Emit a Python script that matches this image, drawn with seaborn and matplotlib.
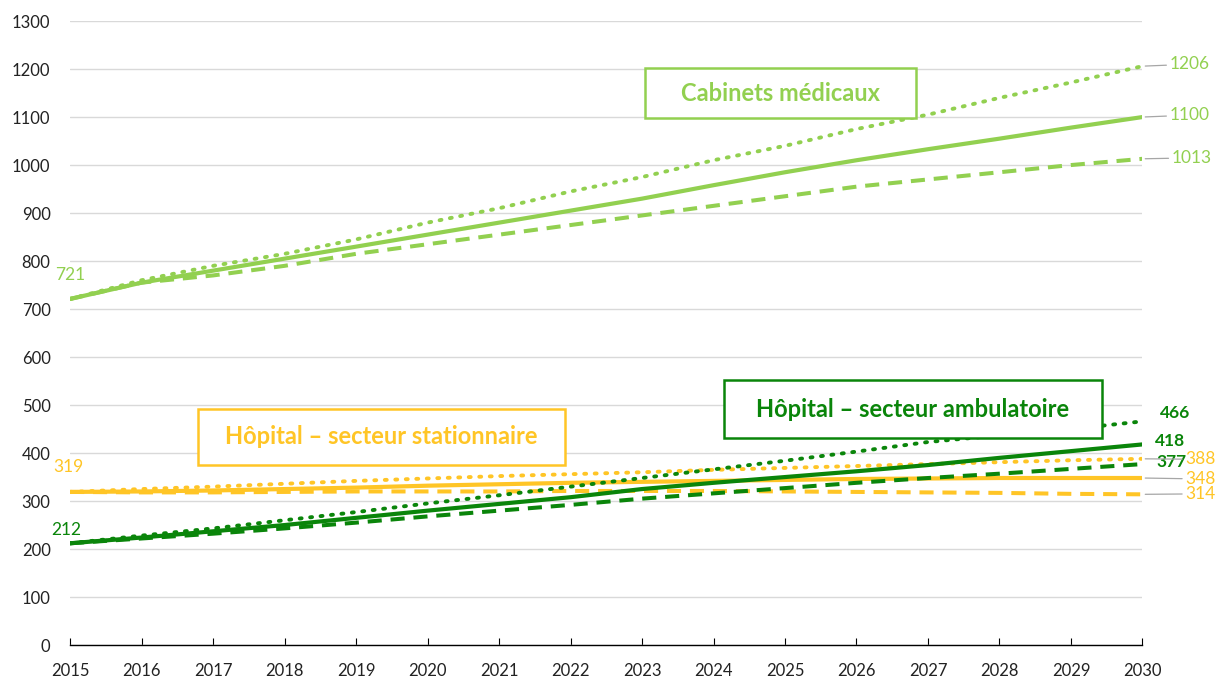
import numpy as np
import pandas as pd
import matplotlib.pyplot as plt
import seaborn as sns
from matplotlib.patches import Rectangle

sns.set_style("white")
plt.rcParams['font.family'] = ['Lato', 'DejaVu Sans']

years = list(range(2015, 2031))

# Cabinets médicaux
cab_base = [721, 755, 780, 805, 830, 855, 880, 905, 930, 958, 985, 1010, 1033, 1055, 1078, 1100]
cab_high = [721, 760, 790, 815, 845, 880, 910, 945, 975, 1010, 1040, 1075, 1105, 1140, 1172, 1206]
cab_low = [721, 755, 770, 790, 815, 835, 855, 875, 895, 915, 935, 955, 970, 985, 1000, 1013]

# Hôpital – secteur stationnaire
sta_base = [319, 320, 322, 325, 328, 332, 335, 338, 340, 342, 344, 346, 347, 348, 348, 348]
sta_high = [319, 325, 330, 336, 342, 347, 352, 356, 360, 365, 369, 373, 377, 381, 385, 388]
sta_low = [319, 318, 318, 319, 320, 320, 320, 321, 321, 321, 320, 319, 318, 317, 315, 314]

# Hôpital – secteur ambulatoire
amb_base = [212, 224, 237, 250, 265, 280, 294, 308, 325, 338, 350, 362, 375, 390, 404, 418]
amb_high = [212, 228, 243, 260, 277, 295, 312, 330, 348, 366, 384, 403, 423, 437, 450, 466]
amb_low = [212, 222, 232, 243, 255, 268, 280, 292, 305, 316, 327, 338, 348, 357, 367, 377]

c_cab = "#92D050"
c_sta = "#FFC526"
c_amb = "#0A850A"

series = [
    (cab_base, c_cab, "-"), (cab_low, c_cab, "--"), (cab_high, c_cab, ":"),
    (sta_base, c_sta, "-"), (sta_low, c_sta, "--"), (sta_high, c_sta, ":"),
    (amb_base, c_amb, "-"), (amb_low, c_amb, "--"), (amb_high, c_amb, ":"),
]

fig = plt.figure(figsize=(12.18, 6.79), dpi=100)
ax = fig.add_axes([0.0575, 0.05, 0.8805, 0.919])

for vals, col, ls in series:
    df = pd.DataFrame({'year': years, 'value': vals})
    if ls == ":":
        sns.lineplot(data=df, x='year', y='value', ax=ax, color=col, lw=2.8,
                     linestyle=(0, (0.5, 2.2)), dash_capstyle='round')
    elif ls == "--":
        sns.lineplot(data=df, x='year', y='value', ax=ax, color=col, lw=2.9,
                     linestyle=(0, (3.5, 2.2)))
    else:
        sns.lineplot(data=df, x='year', y='value', ax=ax, color=col, lw=3.0)

ax.set_xlim(2015, 2030)
ax.set_ylim(0, 1300)
ax.set_xticks(years)
ax.set_yticks(range(0, 1301, 100))
ax.set_xlabel("")
ax.set_ylabel("")
ax.grid(axis='y', color='#D9D9D9', lw=1)
ax.set_axisbelow(True)
for s in ['left', 'right', 'top']:
    ax.spines[s].set_visible(False)
ax.spines['bottom'].set_color('black')
ax.spines['bottom'].set_linewidth(1)
ax.tick_params(axis='x', direction='in', length=5, color='black', labelsize=12, pad=13, bottom=True)
ax.tick_params(axis='y', length=0, labelsize=12, pad=14)
for lab in ax.get_yticklabels() + ax.get_xticklabels():
    lab.set_color('#222222')

# start labels
ax.text(2015.0, 770, "721", color=c_cab, fontsize=12.5, ha='center', va='center')
ax.text(2014.98, 371, "319", color=c_sta, fontsize=12.5, ha='center', va='center')
ax.text(2014.94, 240, "212", color=c_amb, fontsize=12.5, ha='center', va='center')

# end labels with leader lines
ends = [
    (cab_high, c_cab, 2030.38, 1210, True),
    (cab_base, c_cab, 2030.38, 1104, True),
    (cab_low, c_cab, 2030.41, 1015, True),
    (amb_high, c_amb, 2030.24, 483, False),
    (amb_base, c_amb, 2030.17, 425, False),
    (amb_low, c_amb, 2030.2, 381, False),
    (sta_high, c_sta, 2030.6, 387, True),
    (sta_base, c_sta, 2030.6, 346, True),
    (sta_low, c_sta, 2030.6, 315, True),
]
for vals, col, tx, ty, leader in ends:
    props = dict(arrowstyle='-', color='#A6A6A6', lw=0.9, shrinkA=0, shrinkB=2) if leader else None
    ax.annotate(str(vals[-1]), xy=(2030, vals[-1]), xytext=(tx, ty), color=col,
                fontsize=12.5, ha='left', va='center', annotation_clip=False,
                fontweight='bold' if col == c_amb else 'normal',
                arrowprops=props)

# boxed series names
boxes = [
    ("Cabinets médicaux", c_cab, 2023.04, 1098, 3.79, 104),
    ("Hôpital – secteur stationnaire", c_sta, 2016.79, 375, 5.13, 117),
    ("Hôpital – secteur ambulatoire", c_amb, 2024.14, 431, 5.30, 121),
]
for txt, col, bx, by, bw, bh in boxes:
    ax.add_patch(Rectangle((bx, by), bw, bh, facecolor='white', edgecolor=col, lw=1.8, zorder=5))
    ax.text(bx + bw / 2, by + bh / 2, txt, color=col, fontsize=17, fontweight='bold',
            ha='center', va='center', zorder=6)

fig.savefig('out.png', dpi=100)
